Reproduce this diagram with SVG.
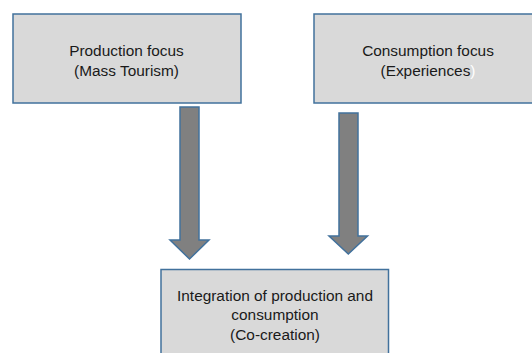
<svg xmlns="http://www.w3.org/2000/svg" width="532" height="353" viewBox="0 0 532 353">
<style>
.box{fill:#d9d9d9;stroke:#41719c;stroke-width:1.5}
.arr{fill:#808080;stroke:#41719c;stroke-width:1.5;stroke-linejoin:miter}
.t{font-family:"Liberation Sans",Arial,sans-serif;font-size:15.4px;fill:#1a1a1a;text-anchor:middle}
</style>
<rect width="532" height="353" fill="#ffffff"/>
<g id="connectors">
<path class="arr" d="M180,107 H199 V240 H209 L189.5,259 L170,240 H180 Z"/>
<path class="arr" d="M339,113 H358 V236 H367.5 L348.3,254 L329,236 H339 Z"/>
</g>
<g id="production">
<rect class="box" x="13" y="14" width="228" height="89"/>
<text class="t" x="126.5" y="56">Production focus</text>
<text class="t" x="126.5" y="75.5">(Mass Tourism)</text>
</g>
<g id="consumption">
<rect class="box" x="314" y="14" width="230" height="89"/>
<text class="t" x="428" y="56">Consumption focus</text>
<text class="t" x="428" y="75.5">(Experiences<tspan fill="#ffffff">)</tspan></text>
</g>
<g id="integration">
<rect class="box" x="161" y="269.5" width="227.5" height="100"/>
<text class="t" x="275" y="300.5">Integration of production and</text>
<text class="t" x="275" y="320">consumption</text>
<text class="t" x="275" y="339.5">(Co-creation)</text>
</g>
</svg>
